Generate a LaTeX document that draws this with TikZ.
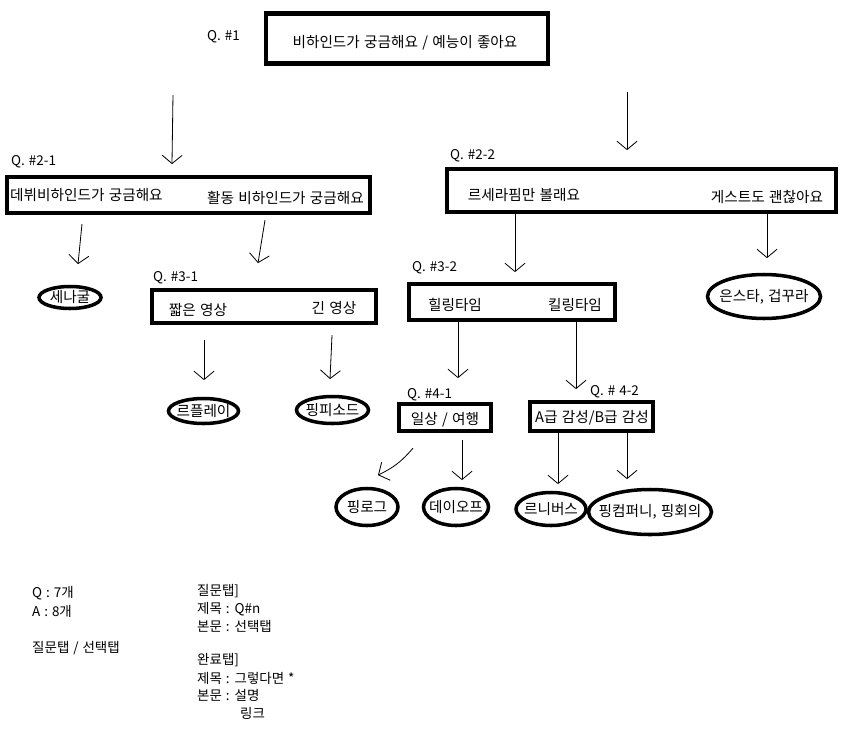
\documentclass[tikz,border=0pt]{standalone}
\usepackage{fontspec}
\setmainfont{Noto Sans CJK KR}[WordSpace=1.3]
\usetikzlibrary{shapes.geometric,arrows.meta}

\begin{document}
\begin{tikzpicture}[x=0.03cm,y=-0.03cm,
		qbox/.style={draw,line width=3.6pt,inner sep=0pt},
		ans/.style={draw,ellipse,line width=3pt,inner sep=0pt},
		txt/.style={inner sep=0pt,font=\fontsize{12.5}{14}\selectfont},
		qlab/.style={inner sep=0pt,anchor=west,font=\fontsize{11.5}{13}\selectfont},
		note/.style={inner sep=0pt,anchor=west,font=\fontsize{11.5}{13}\selectfont},
		arr/.style={line width=0.7pt,-{Straight Barb[length=0.25cm,width=0.6cm]}}]
	\useasboundingbox[fill=white] (0,0) rectangle (850,731);
	% question boxes
	\node[qbox,minimum width=8.46cm,minimum height=1.5cm] (q1) at (407,38.5) {};
	\node[qbox,minimum width=10.89cm,minimum height=1.08cm] (q21) at (188.5,195) {};
	\node[qbox,minimum width=11.67cm,minimum height=1.29cm] (q22) at (641.5,190.5) {};
	\node[qbox,minimum width=6.72cm,minimum height=0.99cm] (q31) at (264,306.5) {};
	\node[qbox,minimum width=6.18cm,minimum height=1.08cm] (q32) at (512,302) {};
	\node[qbox,minimum width=2.76cm,minimum height=0.81cm] (q41) at (445,417.5) {};
	\node[qbox,minimum width=3.69cm,minimum height=0.87cm] (q42) at (591.5,416.5) {};
	\node[txt] (q1t) at (405,43) {비하인드가 궁금해요 / 예능이 좋아요};
	\node[txt,anchor=west] (q21a) at (10,195) {데뷔비하인드가 궁금해요};
	\node[txt] (q21b) at (285.5,198) {활동 비하인드가 궁금해요};
	\node[txt] (q22a) at (524,195) {르세라핌만 볼래요};
	\node[txt] (q22b) at (767,197) {게스트도 괜찮아요};
	\node[txt] (q31a) at (198,310) {짧은 영상};
	\node[txt] (q31b) at (334,308) {긴 영상};
	\node[txt] (q32a) at (455,305) {힐링타임};
	\node[txt] (q32b) at (575,305) {킬링타임};
	\node[txt] (q41t) at (445,420) {일상 / 여행};
	\node[txt] (q42t) at (592,418) {A급 감성/B급 감성};
	% question labels
	\node[qlab] (q1l) at (207,37) {Q. \#1};
	\node[qlab] (q21l) at (11,162) {Q. \#2-1};
	\node[qlab] (q22l) at (450,156) {Q. \#2-2};
	\node[qlab] (q31l) at (153,278) {Q. \#3-1};
	\node[qlab] (q32l) at (412,268) {Q. \#3-2};
	\node[qlab] (q41l) at (407,395) {Q. \#4-1};
	\node[qlab] (q42l) at (590,392) {Q. \# 4-2};
	% answers
	\node[ans,minimum width=1.86cm,minimum height=0.66cm] (sena) at (70,297.5) {};
	\node[ans,minimum width=2.1cm,minimum height=0.75cm] (rple) at (203.5,411) {};
	\node[ans,minimum width=2.16cm,minimum height=0.81cm] (pepi) at (332.5,410) {};
	\node[ans,minimum width=3.39cm,minimum height=1.32cm] (eunst) at (764,296.5) {};
	\node[ans,minimum width=1.86cm,minimum height=1.11cm] (plog) at (367,507) {};
	\node[ans,minimum width=1.95cm,minimum height=1.11cm] (doff) at (456,507) {};
	\node[ans,minimum width=2.1cm,minimum height=0.99cm] (rniv) at (551,509) {};
	\node[ans,minimum width=3.69cm,minimum height=1.35cm] (pcom) at (650,512) {};
	\node[txt] (senat) at (sena) {세나굴};
	\node[txt] (rplet) at (rple) {르플레이};
	\node[txt] (pepit) at (pepi) {핑피소드};
	\node[txt] (eunstt) at (eunst) {은스타, 겁꾸라};
	\node[txt] (plogt) at (plog) {핑로그};
	\node[txt] (dofft) at (doff) {데이오프};
	\node[txt] (rnivt) at (rniv) {르니버스};
	\node[txt] (pcomt) at (pcom) {핑컴퍼니, 핑회의};
	% arrows
	\draw[arr] ([xshift=-7.02cm,yshift=-0.885cm]q1.south) -- ++(-1,69);
	\draw[arr] ([xshift=6.6cm,yshift=-0.795cm]q1.south) -- ++(0,58);
	\draw[arr] ([xshift=-3.195cm,yshift=-0.27cm]q21.south) -- ++(-4,40);
	\draw[arr] ([xshift=2.295cm,yshift=-0.15cm]q21.south) -- ++(-7,43);
	\draw[arr] ([xshift=-1.8cm,yshift=-0.45cm]q31.south) -- ++(0,40);
	\draw[arr] ([xshift=2.04cm,yshift=-0.3cm]q31.south) -- ++(-2,44);
	\draw[arr] ([xshift=-3.795cm]q22.south) -- ++(0,58);
	\draw[arr] ([xshift=3.765cm]q22.south) -- ++(0,44);
	\draw[arr] ([xshift=-1.62cm]q32.south) -- ++(0,56);
	\draw[arr] ([xshift=1.92cm]q32.south) -- ++(0,67);
	\draw[arr] ([xshift=-0.96cm,yshift=-0.45cm]q41.south) to[bend left=12] ++(-35,27);
	\draw[arr] ([xshift=0.51cm,yshift=-0.21cm]q41.south) -- ++(0,40);
	\draw[arr] ([xshift=-1.005cm]q42.south) -- ++(0,51);
	\draw[arr] ([xshift=1.065cm]q42.south) -- ++(0,46);
	% notes
	\node[note] (nq) at (32,593) {Q : 7개};
	\node[note] (na) at (32,611) {A : 8개};
	\node[note] (ntab) at (32,648) {질문탭 / 선택탭};
	\node[note] (n1) at (197,591) {질문탭]};
	\node[note] (n2) at (197,609) {제목 : Q\#n};
	\node[note] (n3) at (197,626) {본문 : 선택탭};
	\node[note] (n4) at (197,660) {완료탭]};
	\node[note] (n5) at (197,678) {제목 : 그렇다면 *};
	\node[note] (n6) at (197,695) {본문 : 설명};
	\node[note] (n7) at (240,713) {링크};
\end{tikzpicture}
\end{document}
